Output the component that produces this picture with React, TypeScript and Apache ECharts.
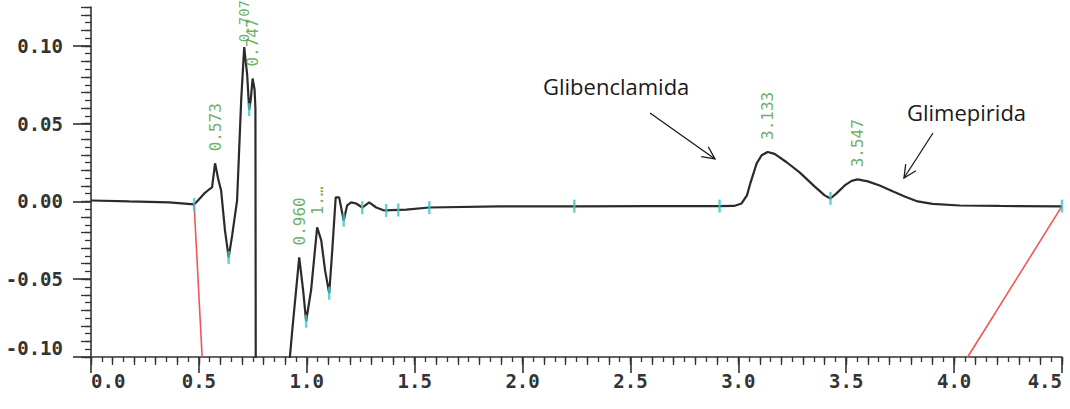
import React, { useEffect, useRef } from "react";
import * as echarts from "echarts";

// Detector trace: retention time (min) and signal (AU)
const retentionTimes = [
  0.0, 0.176, 0.362, 0.478, 0.5, 0.524, 0.547, 0.561, 0.575, 0.589, 0.603, 0.621, 0.638, 0.654,
  0.677, 0.696, 0.71, 0.724, 0.733, 0.74, 0.749, 0.758, 0.762, 0.764, 0.9, 0.912, 0.934, 0.965,
  0.983, 0.997, 1.02, 1.048, 1.067, 1.085, 1.104, 1.118, 1.134, 1.15, 1.171, 1.187, 1.206, 1.229,
  1.257, 1.289, 1.322, 1.359, 1.461, 1.568, 1.892, 2.24, 2.59, 2.913, 2.98, 3.015, 3.04, 3.057,
  3.085, 3.108, 3.136, 3.168, 3.224, 3.284, 3.353, 3.4, 3.427, 3.455, 3.493, 3.525, 3.553, 3.6,
  3.655, 3.715, 3.771, 3.831, 3.9, 4.026, 4.21, 4.5,
];
const signal = [
  0.0006, 0.0, -0.0006, -0.0019, 0.0013, 0.005, 0.0077, 0.009, 0.0245, 0.0148, 0.0071, -0.0187,
  -0.036, -0.022, 0.0006, 0.065, 0.0992, 0.081, 0.059, 0.065, 0.079, 0.072, 0.06, -0.16, -0.16,
  -0.115, -0.081, -0.036, -0.057, -0.077, -0.057, -0.0166, -0.025, -0.0445, -0.059, -0.0316,
  0.0026, 0.0026, -0.0123, -0.0026, -0.0006, -0.0013, -0.0039, -0.0006, -0.0039, -0.0058,
  -0.0052, -0.0039, -0.0032, -0.0032, -0.003, -0.003, -0.0029, -0.0013, 0.0039, 0.0123, 0.0245,
  0.0297, 0.0318, 0.0306, 0.0252, 0.0187, 0.0097, 0.0039, 0.0019, 0.0052, 0.0103, 0.0132,
  0.0142, 0.0129, 0.0103, 0.0065, 0.0032, 0.0, -0.0016, -0.0026, -0.0029, -0.0032,
];

// Integration event marks
const eventTimes = [0.478, 0.638, 0.733, 0.997, 1.104, 1.171, 1.257, 1.368, 1.424, 1.568, 2.24, 2.913, 3.427, 4.5];
const eventSignal = [-0.002, -0.036, 0.059, -0.077, -0.059, -0.012, -0.004, -0.0058, -0.0055, -0.004, -0.003, -0.003, 0.002, -0.003];

// Peak apex labels
const peakTimes = [0.575, 0.71, 0.749, 0.965, 1.048, 3.136, 3.553];
const peakHeights = [0.0245, 0.0992, 0.079, -0.036, -0.0166, 0.0318, 0.0142];
const peakTexts = ["0.573", "0.707", "0.747", "0.960", "1.\u2026", "3.133", "3.547"];

// Baseline drop lines
const baselineStart = [[0.478, -0.002], [0.515, -0.1]];
const baselineEnd = [[4.5, -0.003], [4.063, -0.1]];

const xMajorTicks = [0, 0.5, 1, 1.5, 2, 2.5, 3, 3.5, 4, 4.5];
const yMajorTicks = [-0.1, -0.05, 0, 0.05, 0.1];

const compounds = ["Glibenclamida", "Glimepirida"];

function arrow(x1: number, y1: number, x2: number, y2: number) {
  const a = Math.atan2(y2 - y1, x2 - x1);
  const len = 14;
  const spread = 0.45;
  const p1 = [x2 - len * Math.cos(a - spread), y2 - len * Math.sin(a - spread)];
  const p2 = [x2 - len * Math.cos(a + spread), y2 - len * Math.sin(a + spread)];
  const style = { stroke: "#1a1a1a", lineWidth: 1.3, fill: null };
  return [
    { type: "line", shape: { x1, y1, x2, y2 }, style },
    { type: "polyline", shape: { points: [p1, [x2, y2], p2] }, style },
  ];
}

export default function App() {
  const ref = useRef<HTMLDivElement>(null);

  useEffect(() => {
    if (!ref.current) return;
    const chart = echarts.init(ref.current, null, { renderer: "svg" });
    const axisColor = "#333";
    const labelFont = {
      color: "#333",
      fontFamily: "DejaVu Sans Mono",
      fontWeight: "bold" as const,
      fontSize: 19,
    };
    const hiddenX = (interval: number, len: number) => ({
      type: "value",
      min: 0,
      max: 4.5,
      interval,
      position: "bottom",
      axisLine: { show: false, onZero: false },
      axisTick: { show: true, length: len, lineStyle: { color: axisColor, width: 1.3 } },
      axisLabel: { show: false },
      splitLine: { show: false },
    });
    const hiddenY = (interval: number, len: number) => ({
      type: "value",
      min: -0.1,
      max: 0.125,
      interval,
      position: "left",
      axisLine: { show: false, onZero: false },
      axisTick: { show: true, length: len, lineStyle: { color: axisColor, width: 1.3 } },
      axisLabel: { show: false },
      splitLine: { show: false },
    });

    chart.setOption({
      animation: false,
      grid: { left: 91, right: 8, top: 7, bottom: 52 },
      xAxis: [
        {
          type: "value",
          min: 0,
          max: 4.5,
          position: "bottom",
          axisLine: { show: true, onZero: false, lineStyle: { color: axisColor, width: 1.6 } },
          axisTick: { show: true, length: 16, customValues: xMajorTicks, lineStyle: { color: axisColor, width: 1.6 } },
          axisLabel: {
            ...labelFont,
            customValues: xMajorTicks,
            margin: 14,
            alignMinLabel: "left",
            alignMaxLabel: "right",
            formatter: (v: number) => v.toFixed(1),
          },
          splitLine: { show: false },
        },
        hiddenX(0.1, 8),
        hiddenX(0.05, 5),
      ],
      yAxis: [
        {
          type: "value",
          min: -0.1,
          max: 0.125,
          position: "left",
          axisLine: { show: true, onZero: false, lineStyle: { color: axisColor, width: 1.6 } },
          axisTick: { show: true, length: 18, customValues: yMajorTicks, lineStyle: { color: axisColor, width: 1.6 } },
          axisLabel: {
            ...labelFont,
            customValues: yMajorTicks,
            margin: 28,
            verticalAlignMinLabel: "bottom",
            formatter: (v: number) => v.toFixed(2),
          },
          splitLine: { show: false },
        },
        hiddenY(0.01, 10),
        hiddenY(0.005, 6),
      ],
      series: [
        {
          type: "line",
          data: baselineStart,
          symbol: "none",
          lineStyle: { color: "#f25555", width: 1.6 },
          clip: true,
          z: 2,
        },
        {
          type: "line",
          data: baselineEnd,
          symbol: "none",
          lineStyle: { color: "#f25555", width: 1.6 },
          clip: true,
          z: 2,
        },
        {
          type: "line",
          data: retentionTimes.map((t, i) => [t, signal[i]]),
          symbol: "none",
          lineStyle: { color: "#2b2b2b", width: 2.2 },
          clip: true,
          z: 3,
        },
        {
          type: "scatter",
          data: eventTimes.map((t, i) => [t, eventSignal[i]]),
          symbol: "rect",
          symbolSize: [2.5, 13],
          itemStyle: { color: "#3cc8c8" },
          z: 4,
        },
        {
          type: "scatter",
          data: peakTimes.map((t, i) => ({
            value: [t, peakHeights[i]],
            name: peakTexts[i],
            // the tallest apex sits close to the top edge, so its label hugs the peak
            label: peakTexts[i] === "0.707" ? { distance: 4, fontSize: 14 } : undefined,
          })),
          symbol: "circle",
          symbolSize: 2,
          itemStyle: { color: "rgba(0,0,0,0)" },
          clip: false,
          label: {
            show: true,
            position: "top",
            distance: 11,
            rotate: 90,
            align: "left",
            verticalAlign: "middle",
            formatter: (p: any) => p.name,
            color: "#4a9a3c",
            fontFamily: "DejaVu Sans Mono",
            fontSize: 16,
          },
          labelLayout: { hideOverlap: false },
          z: 5,
        },
      ],
      graphic: [
        {
          type: "text",
          x: 543,
          y: 75,
          style: { text: compounds[0], fill: "#1a1a1a", font: "22px 'Open Sans'" },
        },
        {
          type: "text",
          x: 907,
          y: 101,
          style: { text: compounds[1], fill: "#1a1a1a", font: "22px 'Open Sans'" },
        },
        ...arrow(650, 113, 715, 159),
        ...arrow(933, 133, 904, 178),
      ],
    });
    return () => chart.dispose();
  }, []);

  return (
    <div
      ref={ref}
      style={{ position: "fixed", left: 0, top: 0, width: 1070, height: 409, background: "#fff" }}
    />
  );
}
